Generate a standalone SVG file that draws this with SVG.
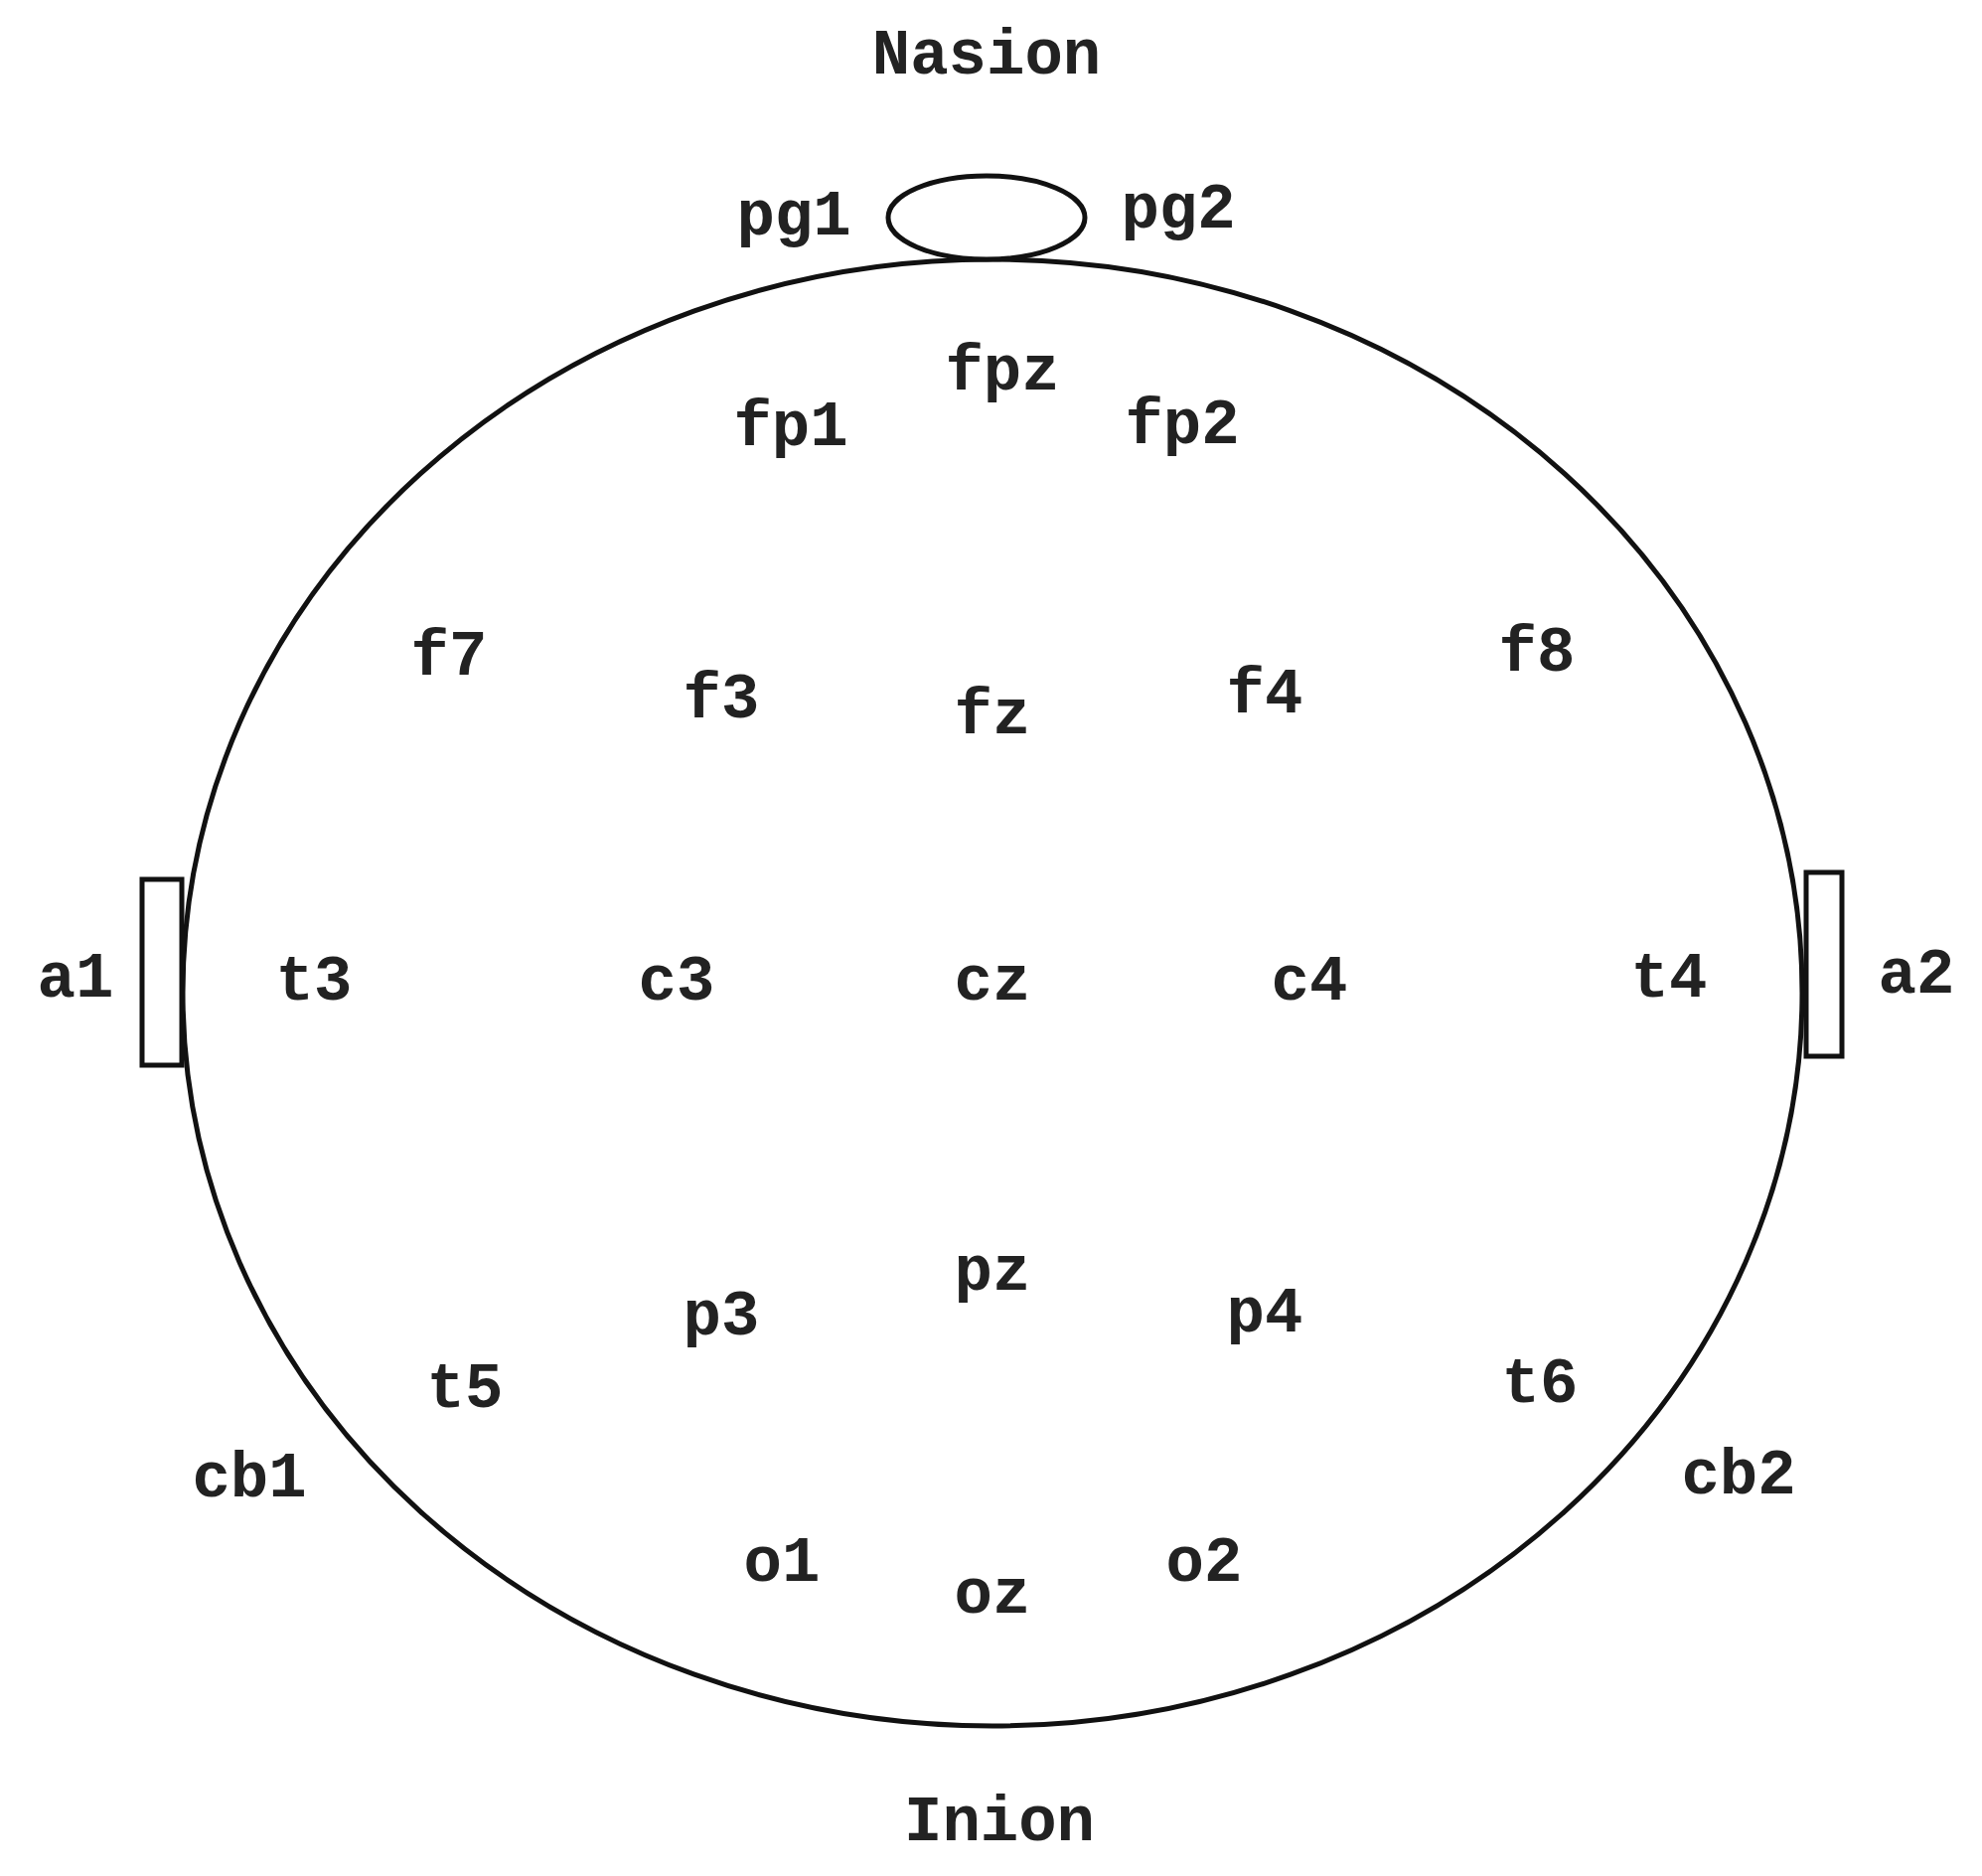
<svg xmlns="http://www.w3.org/2000/svg" width="1995" height="1888" viewBox="0 0 1995 1888">
<style>
text{font-family:"Liberation Mono","Courier New",monospace;font-weight:bold;font-size:64px;fill:#222;text-anchor:middle}
.s{fill:#fff;stroke:#111;stroke-width:5}
</style>
<rect width="1995" height="1888" fill="#fff"/>
<g id="head"><ellipse class="s" cx="999" cy="999" rx="815" ry="738" stroke-width="7"/></g>
<g id="nose"><ellipse class="s" cx="993" cy="219" rx="99" ry="42" stroke-width="4"/></g>
<g id="ear-left"><rect class="s" x="143" y="885" width="40" height="187" stroke-width="4"/></g>
<g id="ear-right"><rect class="s" x="1818" y="878" width="36" height="185" stroke-width="4"/></g>
<g id="connectors"></g>
<g id="labels">
<text x="993" y="74">Nasion</text>
<text x="799" y="236">pg1</text>
<text x="1186" y="229">pg2</text>
<text x="1009" y="392">fpz</text>
<text x="796" y="448">fp1</text>
<text x="1190" y="446">fp2</text>
<text x="452" y="679">f7</text>
<text x="726" y="722">f3</text>
<text x="999" y="738">fz</text>
<text x="1273" y="717">f4</text>
<text x="1547" y="675">f8</text>
<text x="76" y="1003">a1</text>
<text x="316" y="1006">t3</text>
<text x="681" y="1006">c3</text>
<text x="999" y="1006">cz</text>
<text x="1318" y="1006">c4</text>
<text x="1680" y="1003">t4</text>
<text x="1929" y="999">a2</text>
<text x="999" y="1298">pz</text>
<text x="726" y="1343">p3</text>
<text x="1273" y="1340">p4</text>
<text x="468" y="1416">t5</text>
<text x="1550" y="1411">t6</text>
<text x="251" y="1506">cb1</text>
<text x="1750" y="1503">cb2</text>
<text x="787" y="1591">o1</text>
<text x="999" y="1623">oz</text>
<text x="1212" y="1591">o2</text>
<text x="1006" y="1852">Inion</text>
</g>
</svg>
